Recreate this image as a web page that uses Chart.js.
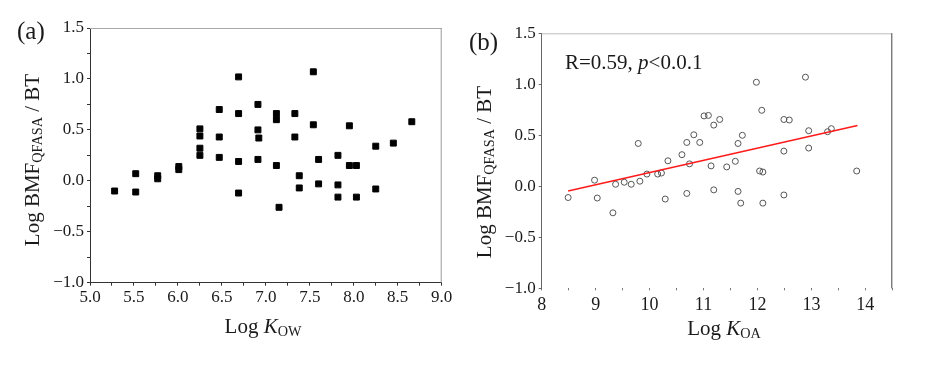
<!DOCTYPE html>
<html>
<head>
<meta charset="utf-8">
<script src="https://cdn.jsdelivr.net/npm/chart.js@4.4.1/dist/chart.umd.min.js"></script>
<style>
  html, body { margin: 0; padding: 0; background: #fff; }
  #wrap { position: relative; width: 931px; height: 365px; overflow: hidden; font-family: "Liberation Serif", "Times New Roman", serif; color: #1a1a1a; }
  canvas { position: absolute; top: 0; }
  .t { position: absolute; white-space: nowrap; line-height: 1; }
  .t sub { font-size: 0.68em; vertical-align: -0.25em; }
  .rot { transform: translate(-50%, -50%) rotate(-90deg); }
  .ctr { transform: translate(-50%, -50%); }
</style>
</head>
<body>
<div id="wrap">
  <canvas id="ca" width="460" height="365" style="left:0px"></canvas>
  <canvas id="cb" width="471" height="365" style="left:460px"></canvas>
  <div class="t" style="left:17px; top:18px; font-size:25px;">(a)</div>
  <div class="t" style="left:469px; top:29px; font-size:25px;">(b)</div>
  <div class="t rot" style="left:33px; top:160px; font-size:21px;">Log BMF<sub>QFASA</sub> / BT</div>
  <div class="t rot" style="left:485px; top:172px; font-size:21px;">Log BMF<sub>QFASA</sub> / BT</div>
  <div class="t ctr" style="left:263px; top:327px; font-size:21px;">Log <i>K</i><sub>OW</sub></div>
  <div class="t ctr" style="left:724px; top:329px; font-size:21px;">Log <i>K</i><sub>OA</sub></div>
  <div class="t" style="left:565px; top:52px; font-size:21px;">R=0.59, <i>p</i>&lt;0.0.1</div>
</div>
<script>
// ---- Panel (a) data: Log Kow vs Log BMF(QFASA)/BT ----
const kowX = [5.28, 5.52, 5.52, 5.77, 5.77, 6.01, 6.01, 6.25, 6.25, 6.25, 6.25, 6.47, 6.47, 6.47,
  6.69, 6.69, 6.69, 6.69, 6.91, 6.91, 6.92, 6.91, 7.12, 7.12, 7.12, 7.15, 7.33, 7.33, 7.38, 7.38,
  7.54, 7.54, 7.60, 7.60, 7.82, 7.82, 7.82, 7.95, 7.95, 8.03, 8.03, 8.25, 8.25, 8.45, 8.66];
const bmfA = [-0.10, 0.07, -0.11, 0.05, 0.02, 0.14, 0.11, 0.51, 0.44, 0.32, 0.25, 0.70, 0.43, 0.23,
  1.02, 0.66, 0.19, -0.12, 0.75, 0.50, 0.42, 0.21, 0.66, 0.60, 0.15, -0.26, 0.66, 0.43, 0.05, -0.07,
  1.07, 0.55, 0.21, -0.03, 0.25, -0.04, -0.16, 0.54, 0.15, 0.15, -0.16, 0.34, -0.08, 0.37, 0.58];

// ---- Panel (b) data: Log Koa vs Log BMF(QFASA)/BT ----
const koaX = [8.49, 8.98, 9.03, 9.32, 9.37, 9.53, 9.66, 9.79, 9.82, 9.95,
  10.15, 10.22, 10.29, 10.34, 10.60, 10.69, 10.69, 10.74, 10.82, 10.93,
  11.01, 11.09, 11.14, 11.19, 11.19, 11.30, 11.43, 11.59, 11.64, 11.64,
  11.69, 11.72, 11.98, 12.04, 12.08, 12.10, 12.10, 12.49, 12.49, 12.49,
  12.59, 12.89, 12.95, 12.95, 13.30, 13.37, 13.84];
const bmfB = [-0.11, 0.06, -0.115, -0.26, 0.02, 0.04, 0.02, 0.42, 0.05, 0.12,
  0.12, 0.13, -0.125, 0.25, 0.31, 0.43, -0.07, 0.22, 0.505, 0.43,
  0.69, 0.695, 0.20, 0.60, -0.035, 0.655, 0.19, 0.245, 0.42, -0.05,
  -0.165, 0.50, 1.02, 0.15, 0.745, 0.14, -0.165, 0.655, 0.345, -0.085,
  0.65, 1.07, 0.545, 0.375, 0.535, 0.565, 0.15];

// regression line end points
const fitX = [8.49, 13.855];
const fitY = [-0.046, 0.597];

// axis ranges / tick steps
const rangeA = { xmin: 5, xmax: 9, xstep: 0.25, ymin: -1, ymax: 1.5, ystep: 0.25 };
const rangeB = { xmin: 8, xmax: 14.5, xstep: 0.5, ymin: -1, ymax: 1.5, ystep: 0.25 };

const FONT = { family: '"Liberation Serif", "Times New Roman", serif', size: 17 };
const zip = (xs, ys) => xs.map((x, i) => ({ x: x, y: ys[i] }));
const fmt1 = v => (v < 0 ? '\u2212' : '') + Math.abs(v).toFixed(1);
const isMult = (v, m) => Math.abs(v / m - Math.round(v / m)) < 1e-6;

function framePlugin(cfg) {
  return {
    id: 'frame',
    afterDraw(chart) {
      const a = chart.chartArea, c = chart.ctx;
      c.save();
      c.lineWidth = 1;
      const seg = (col, x1, y1, x2, y2) => { if (!col) return; c.strokeStyle = col; c.beginPath(); c.moveTo(x1, y1); c.lineTo(x2, y2); c.stroke(); };
      seg(cfg.top, a.left, a.top + 0.5, a.right, a.top + 0.5);
      seg(cfg.right, a.right - 0.5, a.top, a.right - 0.5, a.bottom);
      c.restore();
    }
  };
}

Chart.defaults.font.family = FONT.family;
Chart.defaults.color = '#1a1a1a';

new Chart(document.getElementById('ca'), {
  type: 'scatter',
  data: { datasets: [{
    data: zip(kowX, bmfA),
    pointStyle: 'rect', pointRadius: 4.2,
    backgroundColor: '#000', borderColor: '#000', borderWidth: 1
  }] },
  options: {
    responsive: false, animation: false, devicePixelRatio: 1,
    layout: { padding: { left: 0, right: 18.3, top: 28, bottom: 42.3 } },
    plugins: { legend: { display: false }, tooltip: { enabled: false } },
    scales: {
      x: {
        type: 'linear', min: rangeA.xmin, max: rangeA.xmax,
        afterFit: s => { s.height = 40; },
        border: { display: true, color: '#333', width: 1 },
        grid: { display: true, drawOnChartArea: false, drawTicks: true, tickLength: 3, tickColor: '#333' },
        ticks: { stepSize: rangeA.xstep, autoSkip: false, maxRotation: 0, padding: 2, font: FONT, color: '#1a1a1a',
          callback: v => isMult(v, 0.5) ? fmt1(v) : '' }
      },
      y: {
        type: 'linear', min: rangeA.ymin, max: rangeA.ymax,
        afterFit: s => { s.width = 90; },
        border: { display: true, color: '#333', width: 1 },
        grid: { display: true, drawOnChartArea: false, drawTicks: true, tickLength: 3, tickColor: '#333' },
        ticks: { stepSize: rangeA.ystep, autoSkip: false, padding: 3, font: FONT, color: '#1a1a1a',
          callback: v => isMult(v, 0.5) ? fmt1(v) : '' }
      }
    }
  },
  plugins: [framePlugin({ top: '#a8a8a8', right: '#9a9a9a' })]
});

new Chart(document.getElementById('cb'), {
  type: 'scatter',
  data: { datasets: [
    {
      data: zip(fitX, fitY), showLine: true, pointRadius: 0,
      borderColor: '#ff1a1a', borderWidth: 1.5, order: 0
    },
    {
      data: zip(koaX, bmfB),
      pointStyle: 'circle', pointRadius: 3,
      backgroundColor: 'rgba(0,0,0,0)', borderColor: '#555', borderWidth: 1, order: 1
    }
  ] },
  options: {
    responsive: false, animation: false, devicePixelRatio: 1,
    layout: { padding: { left: 0, right: 38.7, top: 33.3, bottom: 36.7 } },
    plugins: { legend: { display: false }, tooltip: { enabled: false } },
    scales: {
      x: {
        type: 'linear', min: rangeB.xmin, max: rangeB.xmax,
        afterFit: s => { s.height = 40; },
        border: { display: false },
        grid: { display: true, drawOnChartArea: false, drawTicks: true, tickLength: 2, tickColor: '#777' },
        ticks: { stepSize: rangeB.xstep, autoSkip: false, maxRotation: 0, padding: 4, font: { family: FONT.family, size: 18 }, color: '#1a1a1a',
          callback: v => isMult(v, 1) ? String(v) : '' }
      },
      y: {
        type: 'linear', min: rangeB.ymin, max: rangeB.ymax,
        afterFit: s => { s.width = 81.7; },
        border: { display: true, color: '#666', width: 1 },
        grid: { display: true, drawOnChartArea: false, drawTicks: true, tickLength: 3,
          tickColor: c => isMult(c.tick.value, 0.5) ? '#666' : 'rgba(0,0,0,0)' },
        ticks: { stepSize: rangeB.ystep, autoSkip: false, padding: 3, font: FONT, color: '#1a1a1a',
          callback: v => isMult(v, 0.5) ? fmt1(v) : '' }
      }
    }
  },
  plugins: [framePlugin({ top: '#bdbdbd', right: '#444' })]
});
</script>
</body>
</html>
